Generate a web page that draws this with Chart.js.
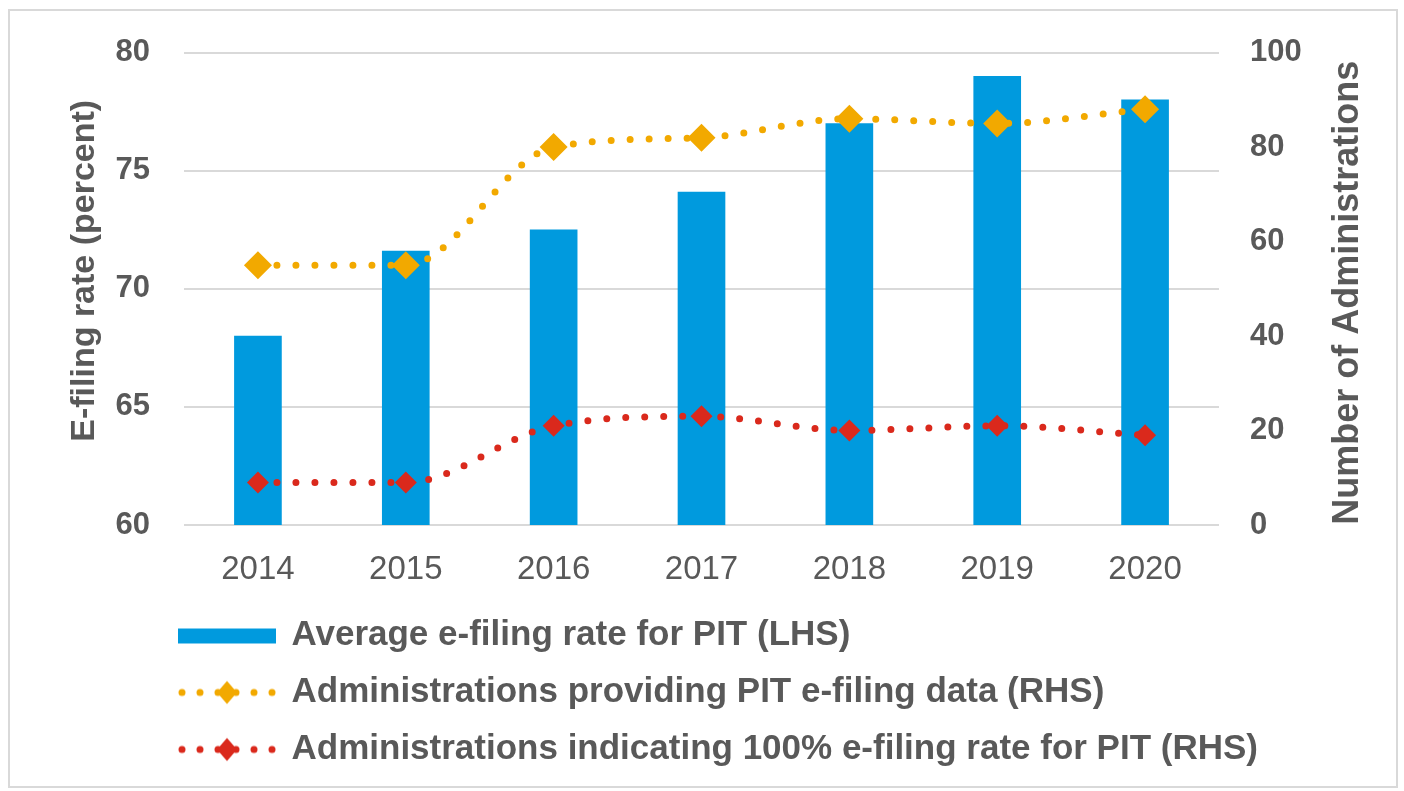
<!DOCTYPE html>
<html>
<head>
<meta charset="utf-8">
<script src="https://cdn.jsdelivr.net/npm/chart.js@4.4.1/dist/chart.umd.min.js"></script>
<style>
  body { margin: 0; background: #fff; }
  #wrap { position: relative; width: 1404px; height: 791px; }
  #frame { position: absolute; left: 8px; top: 9px; width: 1386px; height: 775px;
           border: 2px solid #d9d9d9; pointer-events: none; }
</style>
</head>
<body>
<div id="wrap">
  <canvas id="myChart"></canvas>
  <div id="frame"></div>
</div>
<script>
const years = ['2014', '2015', '2016', '2017', '2018', '2019', '2020'];
const efilingRate = [68.0, 71.6, 72.5, 74.1, 77.0, 79.0, 78.0];      // LHS, percent
const providingData = [55, 55, 80, 82, 86, 85, 88];                  // RHS, count
const fullEfiling = [9, 9, 21, 23, 20, 21, 19];                      // RHS, count

const FONT = '"Liberation Sans", Arial, sans-serif';
const GREY = '#595959';
const BLUE = '#009ADE';
const ORANGE = '#F2A900';
const RED = '#DA291C';

Chart.defaults.font.family = FONT;
Chart.defaults.color = GREY;

// little pictures for the legend: bar swatch, dotted line with a diamond
function makeIcon(kind, color, r) {
    let c = document.createElement('canvas');
    c.width = 98;
    c.height = 30;
    let g = c.getContext('2d');
    g.fillStyle = color;
    if (kind == 'bar') {
        g.fillRect(0, 8, 98, 15);
        return c;
    }
    for (let x = 4; x < 98; x += 18) {
        g.beginPath();
        g.arc(x, 15, 3.5, 0, Math.PI * 2);
        g.fill();
    }
    g.beginPath();
    g.moveTo(49 - r, 15);
    g.lineTo(49, 15 - r * 1.15);
    g.lineTo(49 + r, 15);
    g.lineTo(49, 15 + r * 1.15);
    g.closePath();
    g.fill();
    return c;
}
const legendIcons = [makeIcon('bar', BLUE), makeIcon('line', ORANGE, 10), makeIcon('line', RED, 10)];

// legend sits under the plot, left aligned with the first year
const legendSpot = {
    id: 'legendSpot',
    afterLayout(chart) {
        chart.legend.left = 158;
        chart.legend.top = 596;
    }
};

// both axis titles read bottom to top
function sideTitle(ctx, text, x, y, size) {
    ctx.save();
    ctx.translate(x, y);
    ctx.rotate(-Math.PI / 2);
    ctx.font = 'bold ' + size + 'px ' + FONT;
    ctx.fillStyle = GREY;
    ctx.textAlign = 'center';
    ctx.textBaseline = 'middle';
    ctx.fillText(text, 0, 0);
    ctx.restore();
}
const axisTitles = {
    id: 'axisTitles',
    afterDraw(chart) {
        const {ctx, chartArea} = chart;
        const mid = (chartArea.top + chartArea.bottom) / 2;
        sideTitle(ctx, 'E-filing rate (percent)', chart.scales.y.left + 85, mid - 18, 34);
        sideTitle(ctx, 'Number of Administrations', chart.scales.y2.right - 56, mid + 4, 36);
    }
};

const ctx = document.getElementById('myChart');

let chart = new Chart(ctx, {
    data: {
        labels: years,
        datasets: [{
            type: 'bar',
            label: 'Average e-filing rate for PIT (LHS)',
            data: efilingRate,
            backgroundColor: BLUE,
            barThickness: 47,
            yAxisID: 'y',
            order: 2
        }, {
            type: 'line',
            label: 'Administrations providing PIT e-filing data (RHS)',
            data: providingData,
            borderColor: ORANGE,
            backgroundColor: ORANGE,
            borderWidth: 7,
            borderDash: [0, 19],
            borderCapStyle: 'round',
            cubicInterpolationMode: 'monotone',
            pointStyle: 'rectRot',
            pointRadius: 14,
            pointBorderWidth: 0,
            yAxisID: 'y2',
            order: 1
        }, {
            type: 'line',
            label: 'Administrations indicating 100% e-filing rate for PIT (RHS)',
            data: fullEfiling,
            borderColor: RED,
            backgroundColor: RED,
            borderWidth: 7,
            borderDash: [0, 19],
            borderCapStyle: 'round',
            cubicInterpolationMode: 'monotone',
            pointStyle: 'rectRot',
            pointRadius: 11,
            pointBorderWidth: 0,
            yAxisID: 'y2',
            order: 0
        }]
    },
    options: {
        responsive: true,
        maintainAspectRatio: false,
        animation: false,
        layout: { padding: { top: 50, left: 0, right: 0, bottom: 0 } },
        plugins: {
            tooltip: { enabled: false },
            legend: {
                position: 'bottom',
                align: 'start',
                labels: {
                    usePointStyle: true,
                    pointStyleWidth: 94,
                    padding: 22,
                    color: GREY,
                    font: { size: 35, weight: 'bold' },
                    sort: (a, b) => a.datasetIndex - b.datasetIndex,
                    generateLabels(chart) {
                        let items = Chart.defaults.plugins.legend.labels.generateLabels(chart);
                        items.forEach(it => { it.pointStyle = legendIcons[it.datasetIndex]; });
                        return items;
                    }
                }
            }
        },
        scales: {
            x: {
                grid: { display: false },
                border: { display: false },
                ticks: { color: GREY, padding: 17, font: { size: 33 } },
                afterFit(scale) { scale.height = 85; }
            },
            y: {
                position: 'left',
                min: 60,
                max: 80,
                ticks: { stepSize: 5, padding: 34, color: GREY, font: { size: 31, weight: 'bold' } },
                grid: { color: '#D9D9D9', lineWidth: 2, drawTicks: false },
                border: { display: false },
                afterFit(scale) { scale.width = 184; }
            },
            y2: {
                position: 'right',
                min: 0,
                max: 100,
                ticks: { stepSize: 20, padding: 31, color: GREY, font: { size: 31, weight: 'bold' } },
                grid: { drawOnChartArea: false, drawTicks: false },
                border: { display: false },
                afterFit(scale) { scale.width = 185; }
            }
        }
    },
    plugins: [legendSpot, axisTitles]
});
</script>
</body>
</html>
